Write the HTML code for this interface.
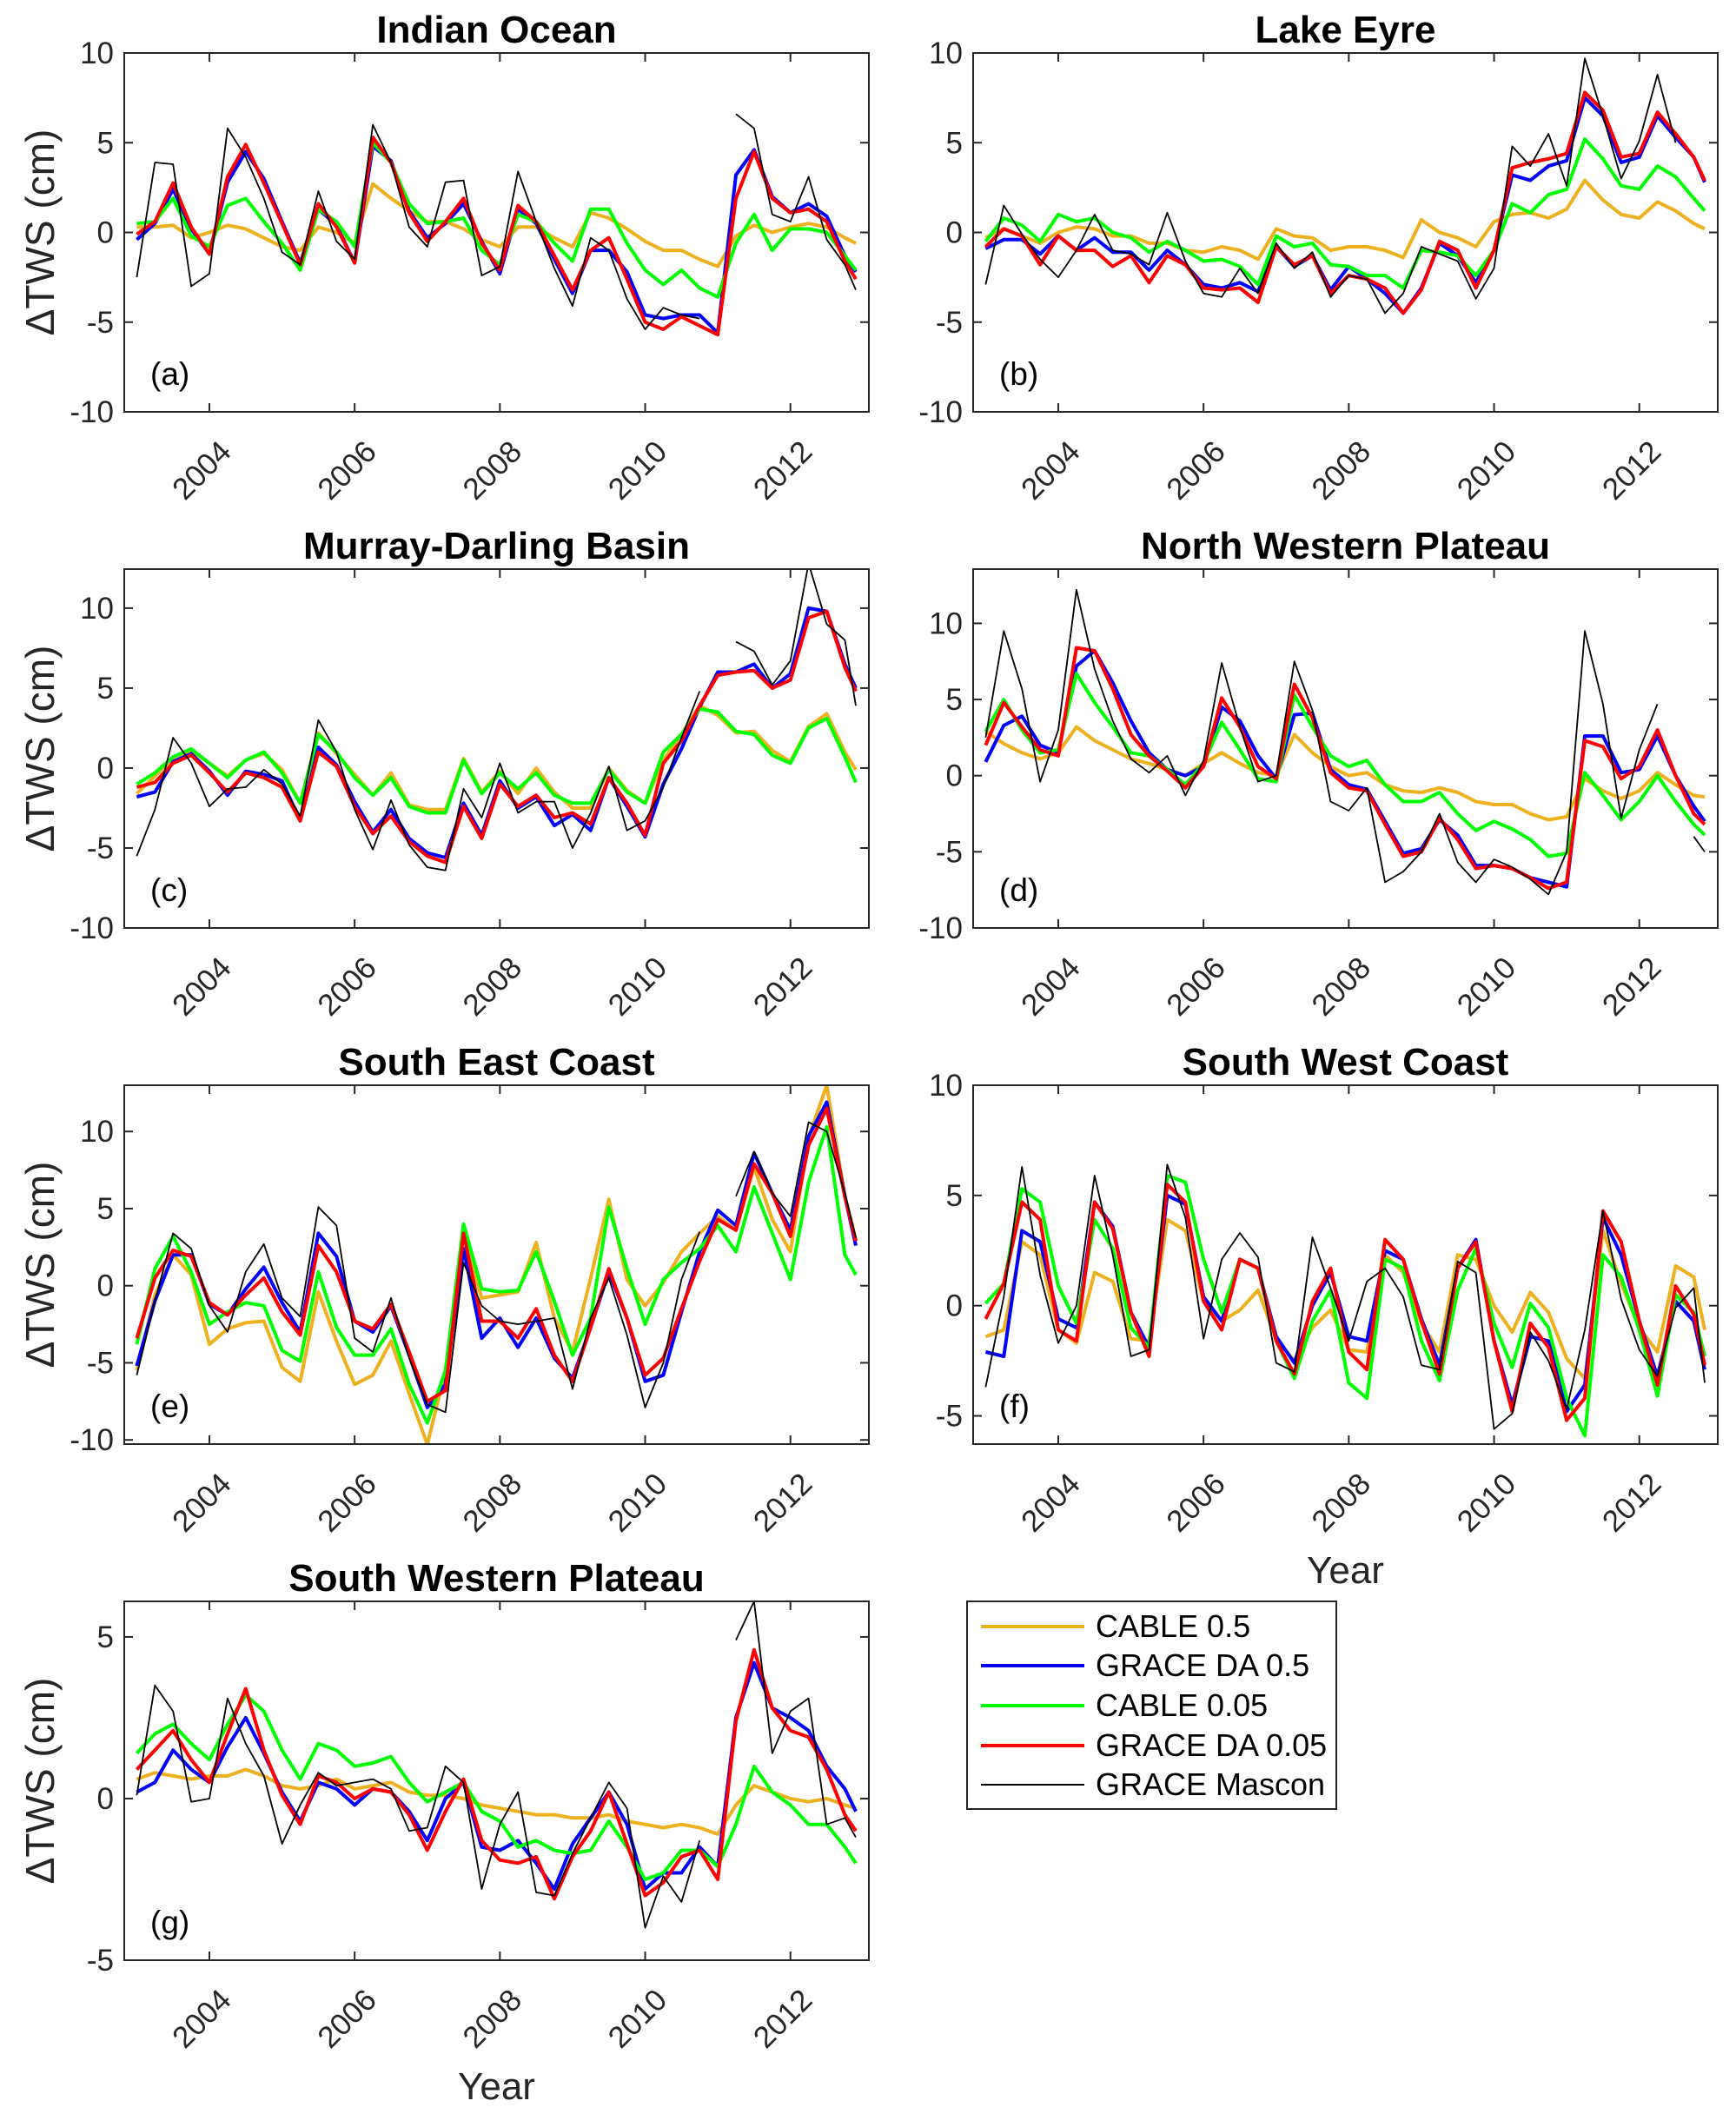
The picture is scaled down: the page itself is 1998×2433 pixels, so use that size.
<!DOCTYPE html>
<html><head><meta charset="utf-8"><style>
html,body{margin:0;padding:0;background:#fff;}
svg{display:block;font-family:"Liberation Sans",Arial,sans-serif;}
</style></head><body>
<svg id="fig" xmlns="http://www.w3.org/2000/svg" width="1998" height="2433" viewBox="0 0 1998 2433">
<rect x="0" y="0" width="1998" height="2433" fill="#fff"/>
<g id="legend">
<rect x="1113" y="1843" width="425" height="239" fill="#fff" stroke="#262626" stroke-width="2"/>
<g><line x1="1129" y1="1872" x2="1248" y2="1872" stroke="#EDB120" stroke-width="4"/><text x="1261" y="1884" font-size="36">CABLE 0.5</text></g>
<g><line x1="1129" y1="1917" x2="1248" y2="1917" stroke="#0000FF" stroke-width="4"/><text x="1261" y="1929" font-size="36">GRACE DA 0.5</text></g>
<g><line x1="1129" y1="1963" x2="1248" y2="1963" stroke="#00FF00" stroke-width="4"/><text x="1261" y="1975" font-size="36">CABLE 0.05</text></g>
<g><line x1="1129" y1="2009" x2="1248" y2="2009" stroke="#FF0000" stroke-width="4"/><text x="1261" y="2021" font-size="36">GRACE DA 0.05</text></g>
<g><line x1="1129" y1="2054" x2="1248" y2="2054" stroke="#000" stroke-width="2"/><text x="1261" y="2066" font-size="36">GRACE Mascon</text></g>
</g>
</svg>
<script>
const years = [2003,2003.25,2003.5,2003.75,2004,2004.25,2004.5,2004.75,2005,2005.25,2005.5,2005.75,2006,2006.25,2006.5,2006.75,2007,2007.25,2007.5,2007.75,2008,2008.25,2008.5,2008.75,2009,2009.25,2009.5,2009.75,2010,2010.25,2010.5,2010.75,2011,2011.25,2011.5,2011.75,2012,2012.25,2012.5,2012.75,2012.9];
const xTickYears = [2004,2006,2008,2010,2012];
const seriesNames = ["CABLE 0.5","GRACE DA 0.5","CABLE 0.05","GRACE DA 0.05","GRACE Mascon"];

const aOrange = [0.3,0.3,0.4,-0.3,0,0.4,0.2,-0.3,-0.8,-1.0,0.3,0,-0.6,2.7,1.9,1.2,0.6,0.6,0.2,-0.4,-0.8,0.3,0.3,-0.3,-0.8,1.1,0.8,0.2,-0.5,-1.0,-1.0,-1.5,-1.9,-0.2,0.4,0,0.3,0.5,0.3,-0.3,-0.6];
const aBlue = [-0.4,0.5,2.4,0.2,-1.2,2.8,4.5,3.0,0.6,-1.7,1.3,0.4,-1.7,4.8,4.0,1.2,-0.3,0.5,1.6,-0.5,-2.3,1.3,0.5,-1.5,-3.4,-1.0,-1.0,-2.2,-4.6,-4.8,-4.6,-4.6,-5.6,3.2,4.6,2.0,1.1,1.6,0.9,-1.3,-2.2];
const aGreen = [0.5,0.6,1.9,-0.2,-0.8,1.5,1.9,0.6,-0.6,-2.1,1.3,0.6,-0.8,5.0,3.9,1.6,0.5,0.6,0.8,-1.0,-1.8,1.0,0.6,-0.6,-1.6,1.3,1.3,-0.6,-2.1,-2.9,-2.1,-3.1,-3.6,-0.6,1.0,-1.0,0.2,0.2,0,-1.3,-2.1];
const aRed = [-0.1,0.6,2.75,0.3,-1.2,3.1,4.9,2.75,0.5,-1.8,1.6,0.3,-1.7,5.3,3.9,1.1,-0.5,0.6,1.9,-0.6,-2.1,1.5,0.6,-1.3,-3.2,-1.0,-0.3,-2.6,-5.0,-5.4,-4.7,-5.2,-5.7,1.9,4.5,1.9,1.1,1.3,0.6,-1.6,-2.6];
const aMascon = [-2.5,3.9,3.8,-3.0,-2.3,5.8,4.2,1.9,-1.1,-1.8,2.3,-0.5,-1.5,6.0,3.9,0.3,-0.8,2.8,2.9,-2.4,-1.9,3.4,0.6,-2.0,-4.1,-0.3,-1.0,-3.7,-5.4,-4.2,-4.6,-4.8,null,6.6,5.8,1.0,0.6,3.1,-0.4,-1.8,-3.2];

const bOrange = [-0.3,0.2,-0.2,-0.6,0,0.3,0.2,-0.2,-0.2,-0.6,-0.6,-1.0,-1.1,-0.8,-1.0,-1.5,0.2,-0.2,-0.3,-1.0,-0.8,-0.8,-1.0,-1.4,0.7,0,-0.3,-0.8,0.6,1.0,1.1,0.8,1.3,2.9,1.8,1.0,0.8,1.7,1.2,0.5,0.2];
const bBlue = [-0.9,-0.4,-0.4,-1.2,-0.2,-1.0,-0.3,-1.1,-1.1,-2.1,-1.0,-1.8,-2.9,-3.1,-2.8,-3.3,-0.8,-1.9,-1.3,-3.2,-1.9,-2.6,-3.4,-4.5,-3.1,-0.6,-1.3,-2.8,-1.0,3.2,2.9,3.7,4.0,7.5,6.5,3.9,4.2,6.5,5.3,4.2,2.8];
const bGreen = [-0.5,0.8,0.4,-0.5,1.0,0.6,0.8,0,-0.3,-1.1,-0.5,-1.0,-1.6,-1.5,-1.9,-2.9,-0.2,-0.8,-0.6,-1.8,-1.9,-2.4,-2.4,-3.1,-1.0,-1.1,-1.3,-2.4,-1.0,1.6,1.1,2.1,2.4,5.2,4.1,2.6,2.4,3.7,3.1,1.9,1.2];
const bRed = [-0.8,0.2,-0.2,-1.8,-0.2,-1.0,-1.0,-1.9,-1.3,-2.8,-1.3,-1.8,-3.1,-3.2,-3.1,-3.9,-0.8,-1.8,-1.3,-3.4,-2.4,-2.6,-3.1,-4.5,-3.2,-0.5,-1.0,-3.1,-1.0,3.6,3.9,4.1,4.4,7.8,6.8,4.2,4.4,6.7,5.5,4.2,2.9];
const bMascon = [-2.9,1.5,-0.1,-1.5,-2.5,-1.0,1.0,-1.0,-1.2,-1.8,1.1,-1.6,-3.4,-3.6,-2.0,-3.4,-0.6,-2.0,-1.1,-3.6,-2.4,-2.6,-4.5,-3.4,-0.8,-1.2,-1.6,-3.7,-2.0,4.8,3.7,5.5,2.6,9.7,6.5,3.0,5.1,8.8,5.0,null,2.0];

const cOrange = [-1.6,-0.5,0.6,1.1,0.3,-0.5,0.5,0.9,-0.1,-2.2,2.2,0.9,-0.4,-1.7,-0.3,-2.3,-2.6,-2.6,0.6,-1.5,-0.2,-1.6,0.0,-1.5,-2.5,-2.5,0.0,-1.4,-2.2,0.5,2.1,3.9,3.3,2.2,2.3,1.1,0.4,2.6,3.4,1.0,-0.1];
const cBlue = [-1.8,-1.5,0.4,0.9,-0.2,-1.7,-0.2,-0.4,-0.8,-3.3,1.3,0.2,-2.1,-4.0,-2.6,-4.4,-5.3,-5.6,-2.2,-4.2,-0.8,-2.5,-1.8,-3.6,-2.9,-3.9,-0.6,-2.4,-4.3,-1.0,1.2,3.8,6.0,6.0,6.5,5.0,5.9,10.0,9.8,6.5,5.0];
const cGreen = [-1.0,-0.3,0.7,1.2,0.3,-0.6,0.5,1.0,-0.3,-2.2,2.1,1.0,-0.6,-1.7,-0.6,-2.4,-2.8,-2.8,0.5,-1.6,-0.3,-1.3,-0.3,-1.7,-2.2,-2.2,-0.1,-1.5,-2.2,1.0,2.1,3.7,3.5,2.3,2.1,0.8,0.3,2.5,3.1,0.7,-0.9];
const cRed = [-1.2,-0.9,0.3,0.8,-0.3,-1.5,-0.3,-0.6,-1.2,-3.3,1.0,0.1,-2.4,-4.1,-3.0,-4.6,-5.5,-5.9,-2.4,-4.4,-1.0,-2.4,-1.7,-3.1,-2.8,-3.5,-0.6,-2.2,-4.2,0.3,1.7,3.9,5.8,6.0,6.1,5.0,5.5,9.4,9.8,6.3,4.8];
const cMascon = [-5.5,-2.6,1.9,0.3,-2.4,-1.3,-1.2,-0.1,-1.0,-3.0,3.0,1.0,-2.6,-5.1,-2.0,-4.8,-6.2,-6.4,-1.3,-3.1,0.3,-2.8,-2.1,-2.1,-5.0,-2.8,0.1,-3.9,-3.3,-1.2,1.9,4.8,null,7.9,7.3,5.2,6.7,12.8,9.0,8.0,3.9];

const dOrange = [2.9,2.1,1.5,1.1,1.5,3.2,2.3,1.7,1.1,0.8,0.4,0,0.8,1.5,0.8,0.2,0,2.7,1.5,0.6,0,0.2,-0.6,-1.0,-1.1,-0.8,-1.1,-1.7,-1.9,-1.9,-2.5,-2.9,-2.7,-0.2,-1.0,-1.5,-1.0,0.2,-0.6,-1.3,-1.4];
const dBlue = [0.9,3.3,3.9,2.0,1.5,7.2,8.2,6.1,3.6,1.5,0.4,0.0,0.6,4.5,3.6,1.3,-0.2,4.0,4.1,0.4,-0.6,-0.9,-3.0,-5.1,-4.8,-2.9,-3.9,-5.9,-5.9,-6.1,-6.7,-7.0,-7.3,2.6,2.6,0.2,0.4,2.6,0,-2.0,-3.0];
const dGreen = [2.9,5.0,3.0,1.5,1.7,6.7,4.8,3.2,1.5,1.3,0.4,-0.6,0.8,3.5,1.7,-0.2,-0.4,5.3,3.2,1.3,0.6,1.0,-0.6,-1.7,-1.7,-1.1,-2.5,-3.6,-3.0,-3.5,-4.2,-5.3,-5.1,0.2,-1.3,-2.9,-1.7,0,-1.7,-3.2,-3.9];
const dRed = [2.0,4.8,3.2,1.7,1.3,8.4,8.2,5.7,2.7,1.3,0.3,-0.8,0.6,5.1,3.2,0.6,-0.2,6.0,3.8,0.2,-0.8,-1.0,-3.2,-5.3,-5.0,-2.8,-4.2,-6.1,-5.9,-6.1,-6.7,-7.4,-7.0,2.3,1.9,-0.2,0.6,3.0,0,-2.5,-3.2];
const dMascon = [2.5,9.5,5.7,-0.4,3.0,12.2,7.0,3.6,1.1,0.2,1.3,-1.3,1.0,7.4,3.2,-0.4,0.0,7.5,4.3,-1.7,-2.3,-0.8,-7.0,-6.3,-5.0,-2.5,-5.7,-7.0,-5.5,-6.0,-6.8,-7.8,-5.0,9.5,4.7,-2.8,1.7,4.7,null,-4.0,-5.0];

const eOrange = [-5.5,-0.6,2.0,0.7,-3.8,-2.8,-2.4,-2.3,-5.3,-6.2,-0.4,-3.6,-6.4,-5.8,-3.6,-7.0,-10.3,-5.5,3.4,-0.8,-0.6,-0.4,2.8,-2.1,-4.3,0.5,5.6,0.4,-1.3,0.2,2.2,3.4,4.5,3.6,7.7,4.3,2.2,9.6,13.0,5.8,3.0];
const eBlue = [-5.2,-1.0,2.0,2.0,-1.2,-1.9,-0.2,1.2,-1.1,-3.0,3.4,1.9,-2.3,-3.0,-1.3,-4.5,-7.9,-6.4,2.4,-3.4,-2.1,-4.0,-2.1,-4.7,-6.0,-2.7,0.9,-2.1,-6.2,-5.8,-1.7,2.2,4.9,3.9,8.6,6.0,3.6,9.7,11.9,5.8,2.6];
const eGreen = [-3.8,1.1,3.2,0.9,-2.5,-1.7,-1.1,-1.3,-4.2,-4.9,0.9,-2.7,-4.5,-4.5,-2.8,-6.4,-8.9,-5.5,4.0,-0.2,-0.4,-0.3,2.2,-1.0,-4.5,-2.1,5.1,1.1,-2.5,0.4,1.5,2.4,3.9,2.2,6.4,3.4,0.4,6.7,10.3,2.0,0.7];
const eRed = [-3.4,0.5,2.3,1.9,-1.1,-1.9,-0.6,0.5,-1.7,-3.2,2.6,0.9,-2.3,-2.8,-1.2,-4.3,-7.5,-6.8,3.4,-2.3,-2.3,-3.4,-1.5,-4.5,-6.2,-2.7,1.1,-2.1,-5.8,-4.7,-1.5,1.6,4.3,3.6,7.9,6.0,3.2,9.1,11.5,5.8,2.9];
const eMascon = [-5.8,-1.0,3.4,2.4,-1.3,-3.0,0.9,2.7,-0.8,-2.0,5.1,3.9,-3.4,-4.3,-0.8,-4.7,-7.7,-8.2,1.5,-1.3,-2.3,-2.5,-2.3,-2.1,-6.7,-2.1,0.5,-3.2,-7.9,-5.0,0.4,3.5,null,5.8,8.7,6.0,4.5,10.6,10.0,6.0,3.1];

const fOrange = [-1.4,-1.1,2.9,2.3,-1.1,-1.7,1.5,1.1,-1.5,-1.6,3.9,3.4,0.2,-0.7,-0.2,0.7,-1.5,-2.5,-1.0,-0.2,-2.0,-2.1,2.3,1.5,-0.8,-2.1,2.3,2.1,0,-1.2,0.6,-0.3,-2.4,-3.3,3.4,1.0,-1.0,-2.1,1.8,1.3,-1.1];
const fBlue = [-2.1,-2.3,3.4,2.9,-0.6,-1.0,4.7,3.6,-0.3,-1.9,5.0,4.6,0.4,-0.7,2.1,1.7,-1.4,-2.6,0,1.5,-1.4,-1.6,2.5,2.1,-0.6,-2.7,1.7,3.0,-1.6,-4.5,-1.4,-1.6,-4.8,-3.6,4.0,2.3,-0.7,-3.2,0.2,-0.7,-2.9];
const fGreen = [0.1,1.0,5.3,4.7,0.9,-0.8,3.9,2.6,-1.0,-1.9,5.9,5.6,2.1,-0.3,2.1,1.7,-1.6,-3.3,-0.7,0.7,-3.5,-4.2,2.1,1.7,-1.6,-3.4,0.7,2.6,-0.8,-2.8,0.1,-1.0,-4.2,-5.9,2.3,1.3,-1.1,-4.1,0.5,-0.3,-2.3];
const fRed = [-0.6,1.0,4.7,3.9,-1.1,-1.6,4.7,3.5,-0.3,-2.3,5.5,4.7,0.2,-1.1,2.1,1.7,-1.6,-3.1,0.2,1.7,-2.1,-2.9,3.0,2.1,-0.7,-3.1,1.7,2.9,-1.6,-4.8,-0.8,-1.9,-5.2,-4.2,4.3,2.9,-0.7,-3.6,0.9,-0.4,-2.7];
const fMascon = [-3.7,0.4,6.3,1.4,-1.7,0.0,5.9,2.3,-2.3,-2.0,6.4,4.0,-1.5,2.1,3.3,2.2,-2.6,-3.0,3.1,0.8,-1.6,1.1,1.7,0.4,-2.7,-2.9,2.0,1.5,-5.6,-4.9,-1.2,-2.5,-4.7,-1.1,4.3,0.3,-2.0,-3.2,-0.1,0.8,-3.5];

const gOrange = [0.6,0.8,0.7,0.6,0.7,0.7,0.9,0.7,0.4,0.3,0.4,0.6,0.3,0.4,0.5,0.2,0.1,0.1,0,-0.2,-0.3,-0.4,-0.5,-0.5,-0.6,-0.6,-0.5,-0.7,-0.8,-0.9,-0.8,-0.9,-1.1,-0.2,0.4,0.2,0,-0.1,0,-0.2,-0.3];
const gBlue = [0.2,0.5,1.5,0.9,0.5,1.6,2.5,1.4,0.2,-0.7,0.5,0.3,-0.2,0.3,0.2,-0.4,-1.3,0,0.5,-1.5,-1.6,-1.3,-2.0,-2.8,-1.4,-0.6,0.2,-0.8,-2.8,-2.3,-2.3,-1.5,-2.1,2.5,4.2,2.8,2.5,2.1,1.0,0.3,-0.4];
const gGreen = [1.4,2.0,2.3,1.7,1.2,2.3,3.2,2.7,1.5,0.6,1.7,1.5,1.0,1.1,1.3,0.5,-0.1,0.2,0.5,-0.4,-0.7,-1.5,-1.3,-1.6,-1.7,-1.6,-0.7,-1.5,-2.5,-2.3,-1.6,-1.6,-2.1,-0.8,1.0,0.2,-0.2,-0.8,-0.8,-1.5,-2.0];
const gRed = [0.9,1.5,2.1,1.2,0.5,2.0,3.4,1.5,0.1,-0.8,0.7,0.5,0,0.3,0.2,-0.5,-1.6,-0.4,0.6,-1.3,-1.9,-2.0,-1.8,-3.1,-1.8,-1.0,0.2,-1.4,-3.0,-2.6,-1.8,-1.6,-2.5,2.4,4.6,2.8,2.1,1.9,0.9,-0.5,-1.0];
const gMascon = [0.1,3.5,2.7,-0.1,0.0,3.1,1.7,0.7,-1.4,-0.2,0.8,0.4,0.5,0.6,0.3,-1.0,-0.9,1.0,0.5,-2.8,-0.8,0.2,-2.9,-3.0,-1.7,-0.6,0.5,-0.3,-4.0,-2.4,-3.2,-1.3,null,4.9,6.1,1.4,2.7,3.1,-0.8,-0.6,-1.2];

const panels = [
 {id:"a",title:"Indian Ocean",col:0,row:0,ymin:-10,ymax:10,yticks:[-10,-5,0,5,10],s:[aOrange,aBlue,aGreen,aRed,aMascon],ylab:true,xlab:false},
 {id:"b",title:"Lake Eyre",col:1,row:0,ymin:-10,ymax:10,yticks:[-10,-5,0,5,10],s:[bOrange,bBlue,bGreen,bRed,bMascon],ylab:false,xlab:false},
 {id:"c",title:"Murray-Darling Basin",col:0,row:1,ymin:-10,ymax:12.44,yticks:[-10,-5,0,5,10],s:[cOrange,cBlue,cGreen,cRed,cMascon],ylab:true,xlab:false},
 {id:"d",title:"North Western Plateau",col:1,row:1,ymin:-10,ymax:13.56,yticks:[-10,-5,0,5,10],s:[dOrange,dBlue,dGreen,dRed,dMascon],ylab:false,xlab:false},
 {id:"e",title:"South East Coast",col:0,row:2,ymin:-10.27,ymax:13,yticks:[-10,-5,0,5,10],s:[eOrange,eBlue,eGreen,eRed,eMascon],ylab:true,xlab:false},
 {id:"f",title:"South West Coast",col:1,row:2,ymin:-6.28,ymax:10,yticks:[-5,0,5,10],s:[fOrange,fBlue,fGreen,fRed,fMascon],ylab:false,xlab:true},
 {id:"g",title:"South Western Plateau",col:0,row:3,ymin:-5,ymax:6.1,yticks:[-5,0,5],s:[gOrange,gBlue,gGreen,gRed,gMascon],ylab:true,xlab:true}
];
const colors = ["#EDB120","#0000FF","#00FF00","#FF0000","#000000"];
const widths = [4,4,4,4,1.8];
const seriesKeys = ["cable-05","grace-da-05","cable-005","grace-da-005","grace-mascon"];

const NS = "http://www.w3.org/2000/svg";
const svg = document.getElementById("fig");
const legend = document.getElementById("legend");
const colLeft = [143,1120], W = 857, H = 413, rowTop = [61,655,1249,1843];
const tMin = 2002.828, tMax = 2013.08;
function mk(tag, attrs, parent){const e=document.createElementNS(NS,tag);for(const k in attrs)e.setAttribute(k,attrs[k]);(parent||svg).appendChild(e);return e;}

panels.forEach(p=>{
  const L = colLeft[p.col], T = rowTop[p.row], B = T+H, R = L+W;
  const xs = t => L + (t - tMin)/(tMax - tMin)*W;
  const ys = v => B - (v - p.ymin)/(p.ymax - p.ymin)*H;
  const g = mk("g",{});
  
  
  const clip = mk("clipPath",{id:"clip-"+p.id}, g);
  mk("rect",{x:L,y:T,width:W,height:H},clip);
  const title = mk("text",{x:L+W/2,y:T-12,"text-anchor":"middle","font-size":44,"font-weight":"bold"},g);
  title.textContent = p.title;
  
  
  const sg = mk("g",{"clip-path":"url(#clip-"+p.id+")"},g);
  p.s.forEach((vals,si)=>{
    let d="", pen=false;
    vals.forEach((v,i)=>{
      if(v===null||i>=years.length){pen=false;return;}
      d += (pen?"L":"M") + xs(years[i]).toFixed(1) + " " + ys(v).toFixed(1) + " ";
      pen=true;
    });
    const path = mk("path",{d:d,fill:"none",stroke:colors[si],"stroke-width":widths[si],"stroke-linejoin":"round"},sg);
    
    
  });
  const frame = mk("rect",{x:L,y:T,width:W,height:H,fill:"none",stroke:"#262626","stroke-width":2},g);
  
  
  xTickYears.forEach(yr=>{
    const x = xs(yr);
    mk("line",{x1:x,y1:B,x2:x,y2:B-10,stroke:"#262626","stroke-width":2},g);
    mk("line",{x1:x,y1:T,x2:x,y2:T+10,stroke:"#262626","stroke-width":2},g);
    const px = x+27, py = B+48;
    const tl = mk("text",{x:px,y:py,"text-anchor":"end","font-size":35,fill:"#262626",transform:"rotate(-45 "+px+" "+py+")"},g);
    tl.textContent = yr;
    
    
  });
  p.yticks.forEach(v=>{
    const y = ys(v);
    mk("line",{x1:L,y1:y,x2:L+10,y2:y,stroke:"#262626","stroke-width":2},g);
    mk("line",{x1:R,y1:y,x2:R-10,y2:y,stroke:"#262626","stroke-width":2},g);
    const tl = mk("text",{x:L-12,y:y+12,"text-anchor":"end","font-size":35,fill:"#262626"},g);
    tl.textContent = v;
    
    
  });
  const pl = mk("text",{x:L+30,y:T+382,"font-size":37},g);
  pl.textContent = "("+p.id+")";
  
  
  if(p.ylab){
    const cy = T+H/2;
    const yl = mk("text",{x:62,y:cy,"text-anchor":"middle","font-size":46,fill:"#262626",transform:"rotate(-90 62 "+cy+")"},g);
    yl.textContent = "ΔTWS (cm)";
    
    
  }
  if(p.xlab){
    const xl = mk("text",{x:L+W/2,y:B+160,"text-anchor":"middle","font-size":44,fill:"#262626"},g);
    xl.textContent = "Year";
    
    
  }
});
svg.appendChild(legend);
</script>
</body></html>
